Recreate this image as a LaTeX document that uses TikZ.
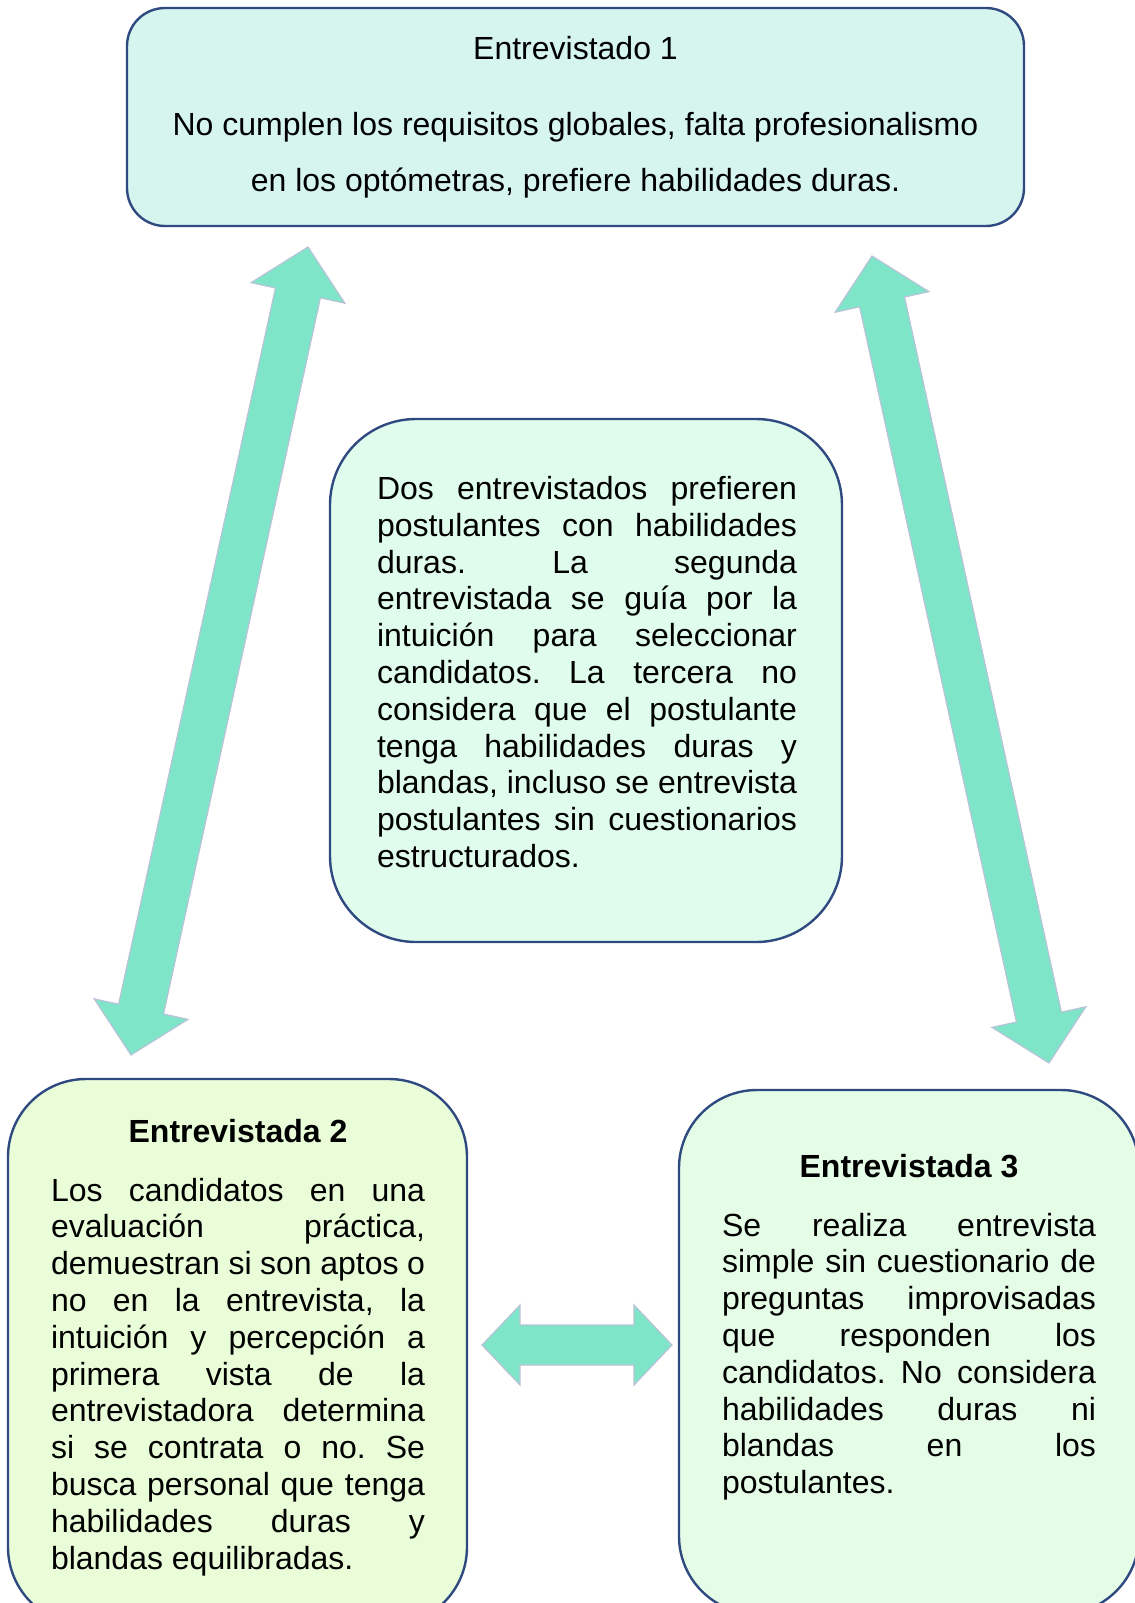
\documentclass[tikz,border=0pt]{standalone}
\usepackage{fontspec}
\setmainfont{Liberation Sans}
\usetikzlibrary{calc}

\definecolor{borde}{HTML}{2F4A80}
\definecolor{fondouno}{HTML}{D5F5EE}
\definecolor{fondocentro}{HTML}{E0FCEC}
\definecolor{fondodos}{HTML}{E9FDD8}
\definecolor{fondotres}{HTML}{E5FCE7}
\definecolor{flechaverde}{HTML}{7EE5C9}
\definecolor{flechaborde}{HTML}{B9C3D8}

\hyphenpenalty=10000
\tolerance=10000
\hbadness=10000
\frenchspacing

\tikzset{
	caja/.style={draw=borde, line width=1.2pt, inner sep=0pt},
	cuerpo/.style={inner sep=0pt, anchor=north, align=justify, text width=#1, font=\fontsize{16}{18.4}\selectfont},
	flecha/.style={fill=flechaverde, draw=flechaborde, line width=0.6pt, line join=miter}
}

% flecha doble gruesa: puntas #1 y #2, medio cuerpo #3, media cabeza #4, largo cabeza #5
\newcommand{\flechadoble}[5]{%
	\coordinate (fa) at ($(#1)!#5!(#2)$);
	\coordinate (fb) at ($(#2)!#5!(#1)$);
	\draw[flecha] (#1) -- ($(fa)!#4!90:(#1)$) -- ($(fa)!#3!90:(#1)$) -- ($(fb)!#3!90:(#1)$) -- ($(fb)!#4!90:(#1)$) -- (#2)
		-- ($(fb)!#4!-90:(#1)$) -- ($(fb)!#3!-90:(#1)$) -- ($(fa)!#3!-90:(#1)$) -- ($(fa)!#4!-90:(#1)$) -- cycle;
}

\begin{document}
\begin{tikzpicture}[x=0.5pt, y=-0.5pt]
	\useasboundingbox (0,0) rectangle (1135,1603);
	\clip (0,0) rectangle (1135,1603);
	% cajas
	\node[caja, fill=fondouno, rounded corners=19pt, minimum width=448.5pt, minimum height=109pt, align=center, font=\fontsize{16}{28}\selectfont] (e1) at (575.5,117)
		{Entrevistado 1\\[10pt]No cumplen los requisitos globales, falta profesionalismo\\en los optómetras, prefiere habilidades duras.};
	\node[caja, fill=fondocentro, rounded corners=43pt, minimum width=256pt, minimum height=261.5pt] (ctr) at (586,680.5) {};
	\node[caja, fill=fondodos, rounded corners=39pt, minimum width=229.5pt, minimum height=273pt] (e2) at (237.5,1352) {};
	\node[caja, fill=fondotres, rounded corners=39pt, minimum width=230pt, minimum height=262pt] (e3) at (909,1352) {};
	% textos
	\node[cuerpo=210pt] (ctrtxt) at (587,476) {Dos entrevistados prefieren\linebreak postulantes con habilidades\linebreak duras. La segunda\linebreak entrevistada se guía por la\linebreak intuición para seleccionar\linebreak candidatos. La tercera no\linebreak considera que el postulante\linebreak tenga habilidades duras y\linebreak blandas, incluso se entrevista\linebreak postulantes sin cuestionarios\linebreak estructurados.};
	\node[cuerpo=187pt] (e2txt) at (238,1119) {\makebox[\linewidth]{\bfseries Entrevistada 2}\par\vspace{10.8pt}Los candidatos en una\linebreak evaluación práctica,\linebreak demuestran si son aptos o\linebreak no en la entrevista, la\linebreak intuición y percepción a\linebreak primera vista de la\linebreak entrevistadora determina\linebreak si se contrata o no. Se\linebreak busca personal que tenga\linebreak habilidades duras y\linebreak blandas equilibradas.};
	\node[cuerpo=187pt] (e3txt) at (909,1154) {\makebox[\linewidth]{\bfseries Entrevistada 3}\par\vspace{10.8pt}Se realiza entrevista\linebreak simple sin cuestionario de\linebreak preguntas improvisadas\linebreak que responden los\linebreak candidatos. No considera\linebreak habilidades duras ni\linebreak blandas en los\linebreak postulantes.};
	% flechas
	\coordinate (a1) at (308,247);
	\coordinate (a2) at (131,1055);
	\coordinate (b1) at (872,256);
	\coordinate (b2) at (1049,1063);
	\coordinate (c1) at (482,1345);
	\coordinate (c2) at (672,1345);
	\flechadoble{a1}{a2}{11.5pt}{24pt}{23.5pt}
	\flechadoble{b1}{b2}{11.5pt}{24pt}{23.5pt}
	\flechadoble{c1}{c2}{10pt}{20pt}{19pt}
\end{tikzpicture}
\end{document}
